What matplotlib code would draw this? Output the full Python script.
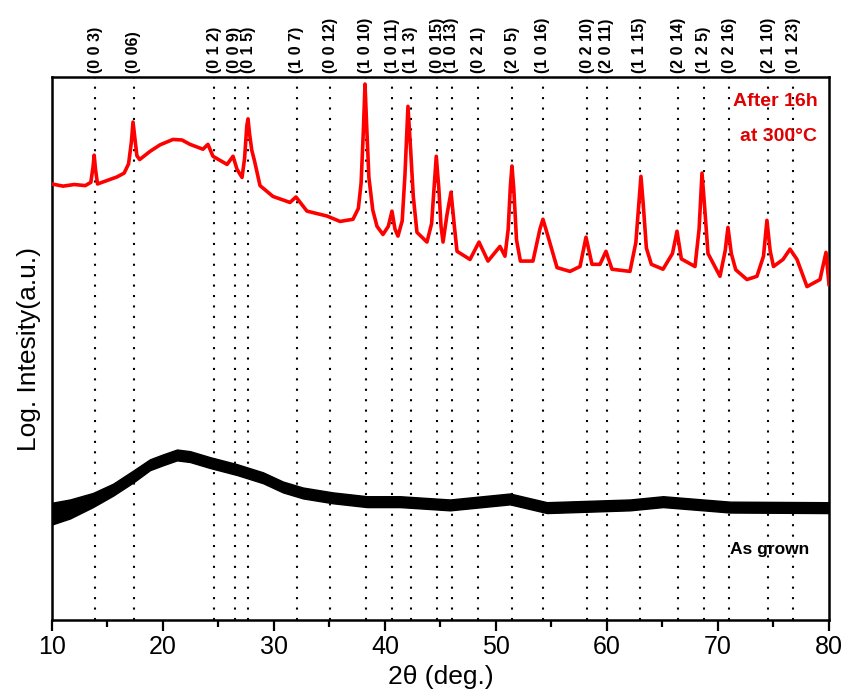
import matplotlib
matplotlib.use("Agg")
import matplotlib.pyplot as plt
from matplotlib.ticker import MultipleLocator

plt.rcParams['font.family'] = ['Liberation Sans', 'DejaVu Sans']

# ---- data ----
hkl_pos = [13.88, 17.36, 24.63, 26.47, 27.68, 32.04, 35.05, 38.25, 40.67, 42.32,
           44.69, 46.0, 48.42, 51.47, 54.23, 58.21, 60.0, 62.96, 66.44, 68.72,
           71.0, 74.53, 76.76]
hkl_labels = ["(0 0 3)", "(0 06)", "(0 1 2)", "(0 0 9)", "(0 1 5)", "(1 0 7)", "(0 0 12)",
              "(1 0 10)", "(1 0 11)", "(1 1 3)", "(0 0 15)", "(1 0 13)", "(0 2 1)",
              "(2 0 5)", "(1 0 16)", "(0 2 10)", "(2 0 11)", "(1 1 15)", "(2 0 14)",
              "(1 2 5)", "(0 2 16)", "(2 1 10)", "(0 1 23)"]

red_x = [10.0, 11.0, 12.0, 13.0, 13.5, 13.7, 13.8, 13.92, 14.1, 15.05,
         15.86, 16.5, 16.9, 17.15, 17.3, 17.45, 17.65, 17.9, 18.83, 19.73,
         20.9, 21.71, 22.43, 23.6, 24.05, 24.5, 25.77, 26.31, 26.67, 27.12,
         27.35, 27.55, 27.66, 27.8, 28.0, 28.25, 28.74, 29.91, 31.44, 31.98,
         32.97, 34.77, 35.95, 37.12, 37.6, 37.85, 38.05, 38.2, 38.35, 38.55,
         38.9, 39.28, 39.82, 40.3, 40.63, 40.9, 41.17, 41.55, 41.8, 42.07,
         42.3, 42.55, 42.88, 43.78, 44.2, 44.45, 44.62, 44.85, 45.05, 45.23,
         45.59, 45.95, 46.25, 46.49, 47.66, 48.47, 49.28, 50.36, 50.81, 51.1,
         51.3, 51.44, 51.6, 51.85, 52.2, 53.33, 53.96, 54.23, 54.68, 55.5,
         56.67, 57.57, 58.11, 58.65, 59.37, 59.91, 60.45, 62.07, 62.6, 62.9,
         63.06, 63.25, 63.55, 64.0, 65.05, 65.9, 66.31, 66.7, 67.93, 68.3,
         68.56, 68.8, 69.1, 70.18, 70.65, 70.9, 71.2, 71.6, 72.61, 73.51,
         74.1, 74.41, 74.7, 75.0, 75.86, 76.49, 77.12, 78.02, 79.19, 79.73,
         80.0]
red_y = [80.3, 79.9, 80.2, 80.0, 80.6, 83.5, 85.6, 83.0, 80.3, 81.0,
         81.6, 82.3, 84.0, 88.0, 91.7, 89.0, 85.5, 84.8, 86.3, 87.5,
         88.5, 88.4, 87.6, 86.7, 87.6, 85.4, 83.9, 85.4, 83.0, 81.5,
         85.0, 91.0, 92.3, 89.5, 86.5, 84.5, 80.0, 78.0, 76.9, 77.9,
         75.3, 74.4, 73.4, 73.8, 75.8, 80.5, 90.0, 98.7, 91.0, 81.5,
         75.5, 72.5, 71.0, 72.5, 75.3, 72.0, 70.7, 73.5, 82.0, 94.6,
         87.0, 78.0, 71.4, 69.6, 73.0, 80.5, 85.4, 79.5, 72.5, 69.6,
         74.7, 78.8, 72.5, 67.9, 66.4, 69.6, 66.1, 68.8, 67.0, 72.0,
         80.0, 83.6, 79.5, 70.0, 66.1, 66.1, 72.0, 73.8, 70.7, 64.9,
         64.2, 65.1, 70.5, 65.5, 65.5, 67.9, 64.6, 64.2, 69.5, 77.5,
         81.7, 77.0, 68.5, 65.5, 64.6, 67.5, 71.6, 66.5, 65.1, 72.0,
         82.3, 76.0, 67.5, 63.3, 68.0, 72.3, 67.5, 64.5, 62.7, 63.3,
         67.0, 73.6, 68.0, 65.1, 66.4, 68.3, 66.4, 61.4, 62.7, 67.7,
         61.8]

black_x = [10.0, 11.62, 13.69, 15.5, 17.3, 18.83, 20.0, 21.26, 22.43, 24.23,
           26.67, 29.01, 30.81, 32.61, 35.32, 38.38, 41.35, 45.86, 51.26, 54.59,
           62.07, 65.05, 71.08, 79.82, 80.0]
black_hi = [21.6, 22.2, 23.4, 25.1, 27.5, 29.6, 30.5, 31.4, 31.1, 30.0,
            28.7, 27.2, 25.5, 24.4, 23.5, 22.8, 22.8, 22.2, 23.3, 21.7,
            22.2, 22.8, 21.8, 21.7, 21.7]
black_lo = [17.6, 18.7, 20.8, 22.9, 25.3, 27.6, 28.5, 29.4, 29.1, 28.0,
            26.7, 25.2, 23.5, 22.4, 21.5, 20.8, 20.8, 20.2, 21.3, 19.7,
            20.2, 20.8, 19.8, 19.7, 19.7]

# ---- figure ----
fig = plt.figure(figsize=(8.44, 6.98), dpi=100)
ax = fig.add_axes([0.0616, 0.1117, 0.9206, 0.778])

for xp in hkl_pos:
    ax.axvline(xp, color='black', lw=1.5, ls=(0, (1, 4)), zorder=1)

for xp, lab in zip(hkl_pos, hkl_labels):
    ax.text(xp, 1.008, lab, transform=ax.get_xaxis_transform(), rotation=90,
            ha='center', va='bottom', fontsize=11.5, fontweight='bold')

ax.plot(red_x, red_y, color='#ff0000', lw=2.6, zorder=3)
ax.fill_between(black_x, black_lo, black_hi, color='black', lw=1.0, zorder=3)

ax.text(0.985, 0.955, "After 16h", transform=ax.transAxes, ha='right', va='center',
        color='#e00000', fontsize=14, fontweight='bold')
ax.text(0.985, 0.89, "at 300°C", transform=ax.transAxes, ha='right', va='center',
        color='#e00000', fontsize=14, fontweight='bold')
ax.text(0.975, 0.13, "As grown", transform=ax.transAxes, ha='right', va='center',
        color='black', fontsize=12.5, fontweight='bold')

ax.set_xlim(10, 80)
ax.set_ylim(0, 100)
ax.xaxis.set_major_locator(MultipleLocator(10))
ax.xaxis.set_minor_locator(MultipleLocator(5))
ax.tick_params(axis='x', which='major', direction='out', length=8, width=1.6,
               labelsize=18, pad=3)
ax.tick_params(axis='x', which='minor', direction='out', length=5, width=1.6)
ax.set_yticks([])
for s in ax.spines.values():
    s.set_linewidth(1.8)

ax.set_xlabel("2θ (deg.)", fontsize=19, labelpad=4)
ax.set_ylabel("Log. Intesity(a.u.)", fontsize=19, labelpad=8)

fig.savefig("out.png", dpi=100)
